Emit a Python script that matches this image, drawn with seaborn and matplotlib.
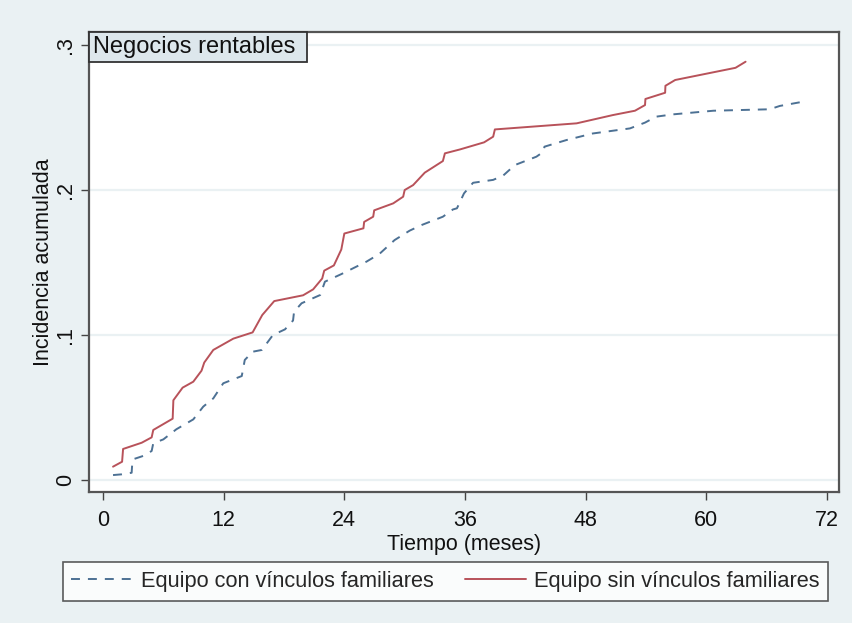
import numpy as np
import pandas as pd
import matplotlib
matplotlib.use("Agg")
import matplotlib.pyplot as plt
from matplotlib.patches import Rectangle
import seaborn as sns

# ---- data ----
con_x = [1.0, 1.86, 2.85, 2.9, 3.0, 4.0, 4.84, 5.0, 6.0, 7.3, 8.98, 9.97, 10.97, 11.96,
         13.8, 14.1, 14.9, 15.8, 16.9, 18.1, 18.9, 19.0, 19.75, 21.6, 22.07, 23.7, 26.2,
         27.5, 29.0, 30.5, 31.7, 33.8, 34.8, 35.2, 35.9, 36.8, 38.8, 39.8, 40.95, 43.1,
         43.8, 43.9, 46.1, 48.7, 50.7, 52.4, 53.9, 55.0, 56.7, 60.7, 66.3, 67.3, 69.6]
con_y = [.0034, .0039, .005, .0103, .0143, .0166, .020, .0253, .028, .035, .0418, .0506,
         .0563, .0667, .0717, .0828, .0885, .0897, .100, .1039, .110, .116, .1219, .1276,
         .1368, .142, .1506, .156, .1655, .172, .1759, .1816, .1866, .1874, .1977, .205,
         .207, .210, .2172, .223, .2264, .2299, .2345, .239, .2409, .2425, .2465, .2506,
         .2522, .2547, .2557, .258, .2609]
sin_x = [1.0, 1.9, 2.0, 3.85, 4.84, 5.0, 6.93, 7.0, 7.92, 8.98, 9.8, 10.07, 10.97, 12.96,
         14.88, 15.84, 17.03, 19.9, 20.9, 21.8, 22.0, 22.96, 23.7, 24.0, 25.9, 25.97,
         26.87, 26.97, 28.86, 29.85, 30.0, 30.84, 32.0, 33.8, 34.0, 35.5, 37.9, 38.8,
         38.97, 47.1, 50.7, 52.9, 53.9, 53.94, 55.9, 55.93, 56.9, 62.9, 63.9]
sin_y = [.0092, .0126, .0214, .0257, .0294, .0345, .0423, .055, .0637, .0678, .0754, .081,
         .0897, .0975, .1018, .1138, .1234, .1274, .1315, .139, .1444, .148, .159, .170,
         .1736, .178, .1816, .186, .1908, .1954, .200, .2034, .212, .220, .2253, .228,
         .2329, .2368, .2418, .246, .2517, .2547, .2586, .2628, .2671, .2719, .2759,
         .2843, .2885]
series_names = ["Equipo con vínculos familiares", "Equipo sin vínculos familiares"]
x_ticks = [0, 12, 24, 36, 48, 60, 72]
y_ticks = [0, 0.1, 0.2, 0.3]
y_ticklabels = ["0", ".1", ".2", ".3"]
panel_title = "Negocios rentables"
x_label = "Tiempo (meses)"
y_label = "Incidencia acumulada"

df = pd.concat([
    pd.DataFrame({"t": con_x, "inc": con_y, "grupo": series_names[0]}),
    pd.DataFrame({"t": sin_x, "inc": sin_y, "grupo": series_names[1]}),
], ignore_index=True)

sns.set_theme(style="white")
plt.rcParams["font.family"] = ["Liberation Sans", "DejaVu Sans"]

BG = "#eaf1f3"
fig = plt.figure(figsize=(8.53, 6.23), dpi=100, facecolor=BG)
ax = fig.add_axes([89/853, 1-492/623, 750/853, 460/623])
ax.set_facecolor("white")

palette = {series_names[0]: "#4d7194", series_names[1]: "#b8525a"}
sns.lineplot(data=df, x="t", y="inc", hue="grupo", style="grupo",
             palette=palette, dashes={series_names[0]: (4.6, 4.1), series_names[1]: ""},
             estimator=None, sort=False, lw=1.4, ax=ax, legend=True)

ax.set_xlim(-1.39, 73.19)
ax.set_ylim(-0.00828, 0.3090)
ax.set_xticks(x_ticks)
ax.set_xticklabels([str(v) for v in x_ticks], fontsize=15.5)
ax.set_yticks(y_ticks)
ax.set_yticklabels(y_ticklabels, fontsize=15.5, rotation=90, va="center")
for yv in y_ticks:
    ax.axhline(yv, color="#eaf1f3", lw=1.6, zorder=0)
ax.tick_params(axis="x", direction="out", length=6, width=1.0, color="#444444",
               bottom=True, pad=7, labelcolor="#111111")
ax.tick_params(axis="y", direction="out", length=6, width=1.0, color="#444444",
               left=True, pad=3, labelcolor="#111111")
for s in ax.spines.values():
    s.set_color("#555555")
    s.set_linewidth(1.6)

ax.set_xlabel(x_label, fontsize=15.5, labelpad=2, color="#111111")
ax.set_ylabel(y_label, fontsize=15.5, labelpad=1, color="#111111")

# panel title box (flush with the top-left corner of the plot region)
ax.add_patch(Rectangle((0, 1 - 30/460), 218/750, 30/460, transform=ax.transAxes,
                       facecolor="#dde7ec", edgecolor="#333333", lw=1.3,
                       zorder=5, clip_on=False))
ax.text(4/750, 1 - 15/460, panel_title, transform=ax.transAxes, ha="left",
        va="center", fontsize=17, color="#111111", zorder=6)

handles, labels = ax.get_legend_handles_labels()
ax.get_legend().remove()
leg = fig.legend(handles, labels, loc="center", ncol=2,
                 bbox_to_anchor=(445.5/853, 1-581.5/623),
                 frameon=True, fancybox=False, fontsize=15.7, handlelength=2.8,
                 borderaxespad=0, handletextpad=0.37, columnspacing=1.45,
                 borderpad=0.4)
leg.get_frame().set_edgecolor("#333333")
leg.get_frame().set_linewidth(1.2)
leg.get_frame().set_facecolor("white")

fig.savefig("out.png", dpi=100, facecolor=BG)
